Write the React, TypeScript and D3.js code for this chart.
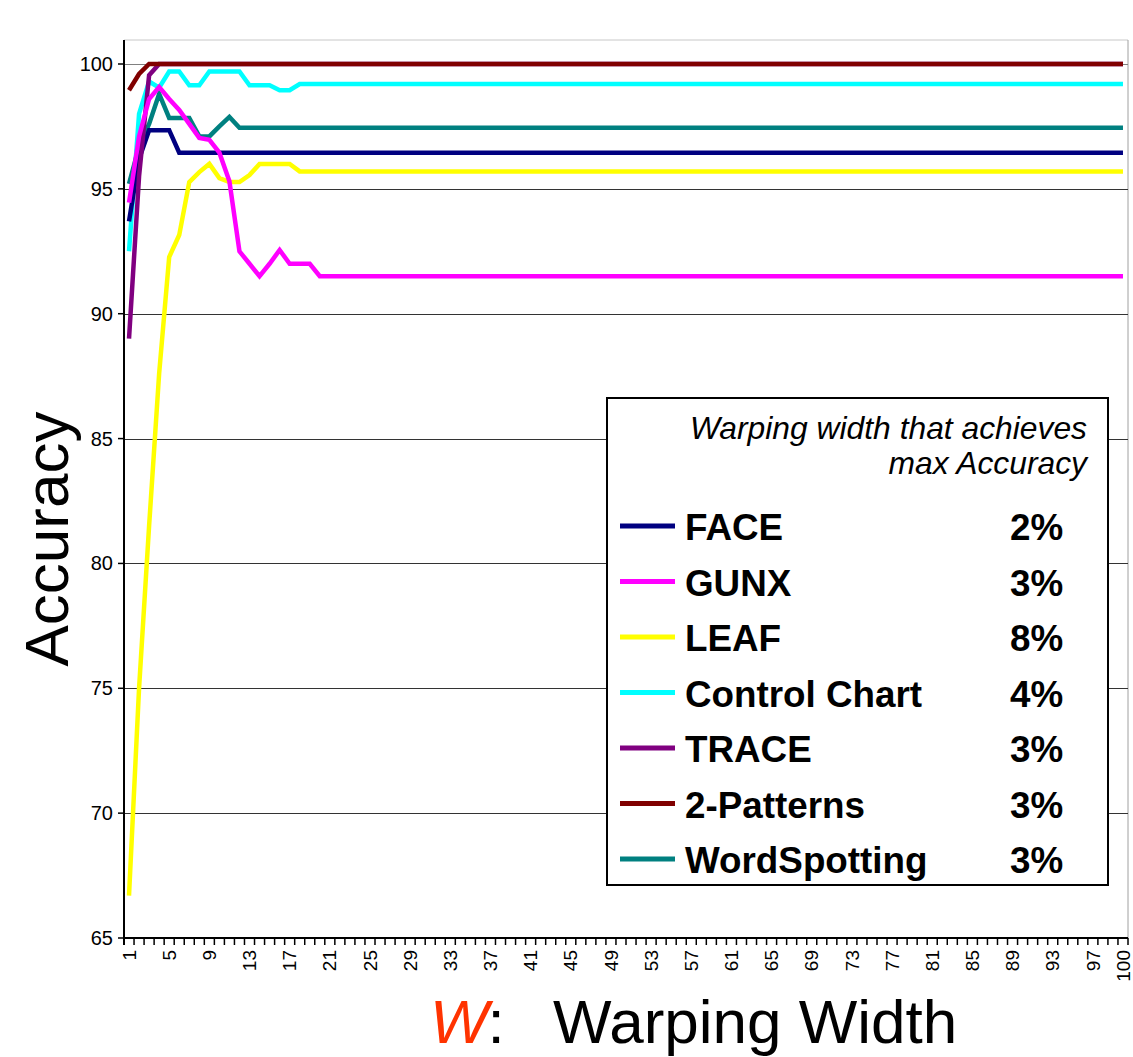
import React from 'react';
import * as d3 from 'd3';

const W = 1133;
const H = 1057;

const categories: number[] = d3.range(1, 101);

const face = [
  93.7, 96.2, 97.35, 97.35, 97.35, 96.45, 96.45, 96.45, 96.45, 96.45,
  96.45, 96.45, 96.45, 96.45, 96.45, 96.45, 96.45, 96.45, 96.45, 96.45,
  96.45, 96.45, 96.45, 96.45, 96.45, 96.45, 96.45, 96.45, 96.45, 96.45,
  96.45, 96.45, 96.45, 96.45, 96.45, 96.45, 96.45, 96.45, 96.45, 96.45,
  96.45, 96.45, 96.45, 96.45, 96.45, 96.45, 96.45, 96.45, 96.45, 96.45,
  96.45, 96.45, 96.45, 96.45, 96.45, 96.45, 96.45, 96.45, 96.45, 96.45,
  96.45, 96.45, 96.45, 96.45, 96.45, 96.45, 96.45, 96.45, 96.45, 96.45,
  96.45, 96.45, 96.45, 96.45, 96.45, 96.45, 96.45, 96.45, 96.45, 96.45,
  96.45, 96.45, 96.45, 96.45, 96.45, 96.45, 96.45, 96.45, 96.45, 96.45,
  96.45, 96.45, 96.45, 96.45, 96.45, 96.45, 96.45, 96.45, 96.45, 96.45,
];

const gunx = [
  94.45, 97.1, 98.6, 99.08, 98.6, 98.16, 97.6, 97.04, 96.96, 96.45,
  95.3, 92.5, 92.0, 91.5, 92.0, 92.55, 92.0, 92.0, 92.0, 91.5,
  91.5, 91.5, 91.5, 91.5, 91.5, 91.5, 91.5, 91.5, 91.5, 91.5,
  91.5, 91.5, 91.5, 91.5, 91.5, 91.5, 91.5, 91.5, 91.5, 91.5,
  91.5, 91.5, 91.5, 91.5, 91.5, 91.5, 91.5, 91.5, 91.5, 91.5,
  91.5, 91.5, 91.5, 91.5, 91.5, 91.5, 91.5, 91.5, 91.5, 91.5,
  91.5, 91.5, 91.5, 91.5, 91.5, 91.5, 91.5, 91.5, 91.5, 91.5,
  91.5, 91.5, 91.5, 91.5, 91.5, 91.5, 91.5, 91.5, 91.5, 91.5,
  91.5, 91.5, 91.5, 91.5, 91.5, 91.5, 91.5, 91.5, 91.5, 91.5,
  91.5, 91.5, 91.5, 91.5, 91.5, 91.5, 91.5, 91.5, 91.5, 91.5,
];

const leaf = [
  66.7, 75.0, 81.5, 87.6, 92.27, 93.15, 95.27, 95.67, 96.0, 95.43,
  95.27, 95.27, 95.55, 96.0, 96.0, 96.0, 96.0, 95.7, 95.7, 95.7,
  95.7, 95.7, 95.7, 95.7, 95.7, 95.7, 95.7, 95.7, 95.7, 95.7,
  95.7, 95.7, 95.7, 95.7, 95.7, 95.7, 95.7, 95.7, 95.7, 95.7,
  95.7, 95.7, 95.7, 95.7, 95.7, 95.7, 95.7, 95.7, 95.7, 95.7,
  95.7, 95.7, 95.7, 95.7, 95.7, 95.7, 95.7, 95.7, 95.7, 95.7,
  95.7, 95.7, 95.7, 95.7, 95.7, 95.7, 95.7, 95.7, 95.7, 95.7,
  95.7, 95.7, 95.7, 95.7, 95.7, 95.7, 95.7, 95.7, 95.7, 95.7,
  95.7, 95.7, 95.7, 95.7, 95.7, 95.7, 95.7, 95.7, 95.7, 95.7,
  95.7, 95.7, 95.7, 95.7, 95.7, 95.7, 95.7, 95.7, 95.7, 95.7,
];

const controlChart = [
  92.5, 98.0, 99.3, 99.05, 99.7, 99.7, 99.15, 99.15, 99.7, 99.7,
  99.7, 99.7, 99.15, 99.15, 99.15, 98.95, 98.95, 99.2, 99.2, 99.2,
  99.2, 99.2, 99.2, 99.2, 99.2, 99.2, 99.2, 99.2, 99.2, 99.2,
  99.2, 99.2, 99.2, 99.2, 99.2, 99.2, 99.2, 99.2, 99.2, 99.2,
  99.2, 99.2, 99.2, 99.2, 99.2, 99.2, 99.2, 99.2, 99.2, 99.2,
  99.2, 99.2, 99.2, 99.2, 99.2, 99.2, 99.2, 99.2, 99.2, 99.2,
  99.2, 99.2, 99.2, 99.2, 99.2, 99.2, 99.2, 99.2, 99.2, 99.2,
  99.2, 99.2, 99.2, 99.2, 99.2, 99.2, 99.2, 99.2, 99.2, 99.2,
  99.2, 99.2, 99.2, 99.2, 99.2, 99.2, 99.2, 99.2, 99.2, 99.2,
  99.2, 99.2, 99.2, 99.2, 99.2, 99.2, 99.2, 99.2, 99.2, 99.2,
];

const trace = [
  89.0, 95.5, 99.55, 100, 100, 100, 100, 100, 100, 100,
  100, 100, 100, 100, 100, 100, 100, 100, 100, 100,
  100, 100, 100, 100, 100, 100, 100, 100, 100, 100,
  100, 100, 100, 100, 100, 100, 100, 100, 100, 100,
  100, 100, 100, 100, 100, 100, 100, 100, 100, 100,
  100, 100, 100, 100, 100, 100, 100, 100, 100, 100,
  100, 100, 100, 100, 100, 100, 100, 100, 100, 100,
  100, 100, 100, 100, 100, 100, 100, 100, 100, 100,
  100, 100, 100, 100, 100, 100, 100, 100, 100, 100,
  100, 100, 100, 100, 100, 100, 100, 100, 100, 100,
];

const twoPatterns = [
  98.95, 99.6, 100, 100, 100, 100, 100, 100, 100, 100,
  100, 100, 100, 100, 100, 100, 100, 100, 100, 100,
  100, 100, 100, 100, 100, 100, 100, 100, 100, 100,
  100, 100, 100, 100, 100, 100, 100, 100, 100, 100,
  100, 100, 100, 100, 100, 100, 100, 100, 100, 100,
  100, 100, 100, 100, 100, 100, 100, 100, 100, 100,
  100, 100, 100, 100, 100, 100, 100, 100, 100, 100,
  100, 100, 100, 100, 100, 100, 100, 100, 100, 100,
  100, 100, 100, 100, 100, 100, 100, 100, 100, 100,
  100, 100, 100, 100, 100, 100, 100, 100, 100, 100,
];

const wordSpotting = [
  95.2, 96.7, 97.6, 98.8, 97.84, 97.84, 97.84, 97.1, 97.1, 97.5,
  97.88, 97.45, 97.45, 97.45, 97.45, 97.45, 97.45, 97.45, 97.45, 97.45,
  97.45, 97.45, 97.45, 97.45, 97.45, 97.45, 97.45, 97.45, 97.45, 97.45,
  97.45, 97.45, 97.45, 97.45, 97.45, 97.45, 97.45, 97.45, 97.45, 97.45,
  97.45, 97.45, 97.45, 97.45, 97.45, 97.45, 97.45, 97.45, 97.45, 97.45,
  97.45, 97.45, 97.45, 97.45, 97.45, 97.45, 97.45, 97.45, 97.45, 97.45,
  97.45, 97.45, 97.45, 97.45, 97.45, 97.45, 97.45, 97.45, 97.45, 97.45,
  97.45, 97.45, 97.45, 97.45, 97.45, 97.45, 97.45, 97.45, 97.45, 97.45,
  97.45, 97.45, 97.45, 97.45, 97.45, 97.45, 97.45, 97.45, 97.45, 97.45,
  97.45, 97.45, 97.45, 97.45, 97.45, 97.45, 97.45, 97.45, 97.45, 97.45,
];

const seriesNames = ['FACE', 'GUNX', 'LEAF', 'Control Chart', 'TRACE', '2-Patterns', 'WordSpotting'];
const seriesColors = ['#000080', '#FF00FF', '#FFFF00', '#00FFFF', '#800080', '#800000', '#008080'];
const bestWidths = ['2%', '3%', '8%', '4%', '3%', '3%', '3%'];
const seriesValues = [face, gunx, leaf, controlChart, trace, twoPatterns, wordSpotting];
const drawOrder = [2, 3, 6, 0, 4, 1, 5];

const yTicks = [65, 70, 75, 80, 85, 90, 95, 100];
const xTickLabels = [1, 5, 9, 13, 17, 21, 25, 29, 33, 37, 41, 45, 49, 53, 57, 61, 65, 69, 73, 77, 81, 85, 89, 93, 97, 100];

const FONT = '"Liberation Sans", Arial, Helvetica, sans-serif';

export default function App() {
  const left = 124;
  const right = 1128;
  const top = 40;
  const bottom = 938;

  const x = d3.scalePoint<number>().domain(categories).range([left, right]).padding(0.5);
  const step = x.step();
  const y = d3.scaleLinear().domain([65, 100]).range([bottom, 64]);

  const line = d3
    .line<number>()
    .x((_, i) => x(categories[i]) as number)
    .y((d) => y(d));

  const boundaries = d3.range(0, categories.length + 1).map((i) => left + i * step);

  const legX = 607;
  const legY = 398;
  const legW = 501;
  const legH = 487;
  const rowY0 = 540;
  const rowGap = 55.5;

  return (
    <svg
      width={W}
      height={H}
      style={{ position: 'absolute', left: 0, top: 0, background: '#fff' }}
      fontFamily={FONT}
    >
      <rect x={0} y={0} width={W} height={H} fill="#fff" />
      <line x1={left} x2={right} y1={top} y2={top} stroke="#c8c8c8" strokeWidth={1} />
      <line x1={right} x2={right} y1={top} y2={bottom} stroke="#a0a0a0" strokeWidth={1} />
      {yTicks.filter((t) => t > 65).map((t) => (
        <line
          key={'g' + t}
          x1={left}
          x2={right}
          y1={Math.round(y(t)) + 0.5}
          y2={Math.round(y(t)) + 0.5}
          stroke={t === 100 ? '#808080' : '#333'}
          strokeWidth={1}
        />
      ))}
      {drawOrder.map((si) => (
        <path
          key={seriesNames[si]}
          d={line(seriesValues[si]) || ''}
          fill="none"
          stroke={seriesColors[si]}
          strokeWidth={4.5}
          strokeLinejoin="miter"
        />
      ))}
      <line x1={left} x2={left} y1={top} y2={bottom + 7} stroke="#000" strokeWidth={2} />
      <line x1={left - 1} x2={right} y1={bottom} y2={bottom} stroke="#000" strokeWidth={2} />
      {yTicks.map((t) => (
        <g key={'yt' + t}>
          <line x1={left - 6} x2={left} y1={y(t)} y2={y(t)} stroke="#000" strokeWidth={1.5} />
          <text x={113} y={y(t)} dy="0.35em" textAnchor="end" fontSize={20} fill="#000">
            {t}
          </text>
        </g>
      ))}
      {boundaries.map((bx, i) => (
        <line key={'xt' + i} x1={bx} x2={bx} y1={bottom} y2={bottom + 7} stroke="#000" strokeWidth={1.5} />
      ))}
      {xTickLabels.map((c) => (
        <text
          key={'xl' + c}
          transform={`translate(${x(c)},${950}) rotate(-90)`}
          dy="0.35em"
          textAnchor="end"
          fontSize={19}
          fill="#000"
        >
          {c}
        </text>
      ))}
      <text transform="translate(68,539) rotate(-90)" textAnchor="middle" fontSize={62} fill="#000">
        Accuracy
      </text>
      <text x={430} y={1043} fontSize={62} fill="#000">
        <tspan fontStyle="italic" fill="#FF3300">W</tspan>
        <tspan dx={-1}>:</tspan>
      </text>
      <text x={553} y={1043} fontSize={62} fill="#000">
        Warping Width
      </text>
      <rect x={legX} y={legY} width={legW} height={legH} fill="#fff" stroke="#000" strokeWidth={2} />
      <text x={1087} y={439} textAnchor="end" fontSize={31.8} fontStyle="italic" fill="#000">
        Warping width that achieves
      </text>
      <text x={1087} y={474} textAnchor="end" fontSize={31.8} fontStyle="italic" fill="#000">
        max Accuracy
      </text>
      {seriesNames.map((name, i) => {
        const by = rowY0 + i * rowGap;
        return (
          <g key={'leg' + name}>
            <line x1={620} x2={675} y1={by - 14} y2={by - 14} stroke={seriesColors[i]} strokeWidth={5} />
            <text x={685} y={by} fontSize={36.8} fontWeight="bold" fill="#000">
              {name}
            </text>
            <text x={1010} y={by} fontSize={36.8} fontWeight="bold" fill="#000">
              {bestWidths[i]}
            </text>
          </g>
        );
      })}
    </svg>
  );
}
